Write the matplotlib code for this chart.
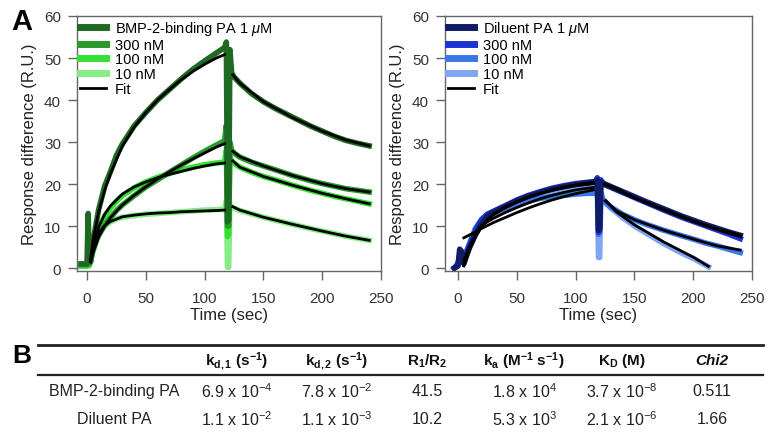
import numpy as np
import matplotlib
matplotlib.use('Agg')
import matplotlib.pyplot as plt
from matplotlib.lines import Line2D

plt.rcParams['font.family'] = ['Liberation Sans', 'DejaVu Sans']
plt.rcParams['mathtext.fontset'] = 'custom'
plt.rcParams['mathtext.rm'] = 'Liberation Sans'
plt.rcParams['mathtext.it'] = 'Liberation Sans:italic'
plt.rcParams['mathtext.bf'] = 'Liberation Sans:bold'
plt.rcParams['mathtext.default'] = 'regular'

# ---------------- Panel A, left: BMP-2-binding PA ----------------
t_bmp = [-5, -2, 0, 1, 2, 3, 5, 8, 10, 15, 20, 25, 30, 40, 50, 60, 70, 80, 90, 100, 110, 117,
         118.5, 119.5, 120.5, 121.5, 123, 125, 130, 140, 150, 160, 175, 190, 200, 210, 220, 230, 240]
bmp_1uM = [1.0, 1.0, 1.0, 13, 1.5, 1.5, 6, 11, 14, 19.5, 23, 26.8, 29.5, 33.8, 37, 40, 42.5, 45, 47.3, 49.3, 51.2, 52.5,
           53.8, 11, 11.5, 52, 46.5, 45.5, 44, 41.5, 39.6, 38, 35.9, 33.8, 32.6, 31.4, 30.4, 29.7, 29.1]
bmp_300nM = [0.8, 0.8, 0.8, 1, 1, 1.5, 4, 6.5, 7.8, 10.2, 12, 13.7, 15, 17.2, 19.3, 21, 22.8, 24.5, 26.2, 27.8, 29.3, 30.3,
             34, 10, 10, 30, 28, 27.4, 26.4, 25.2, 24.3, 23.4, 22, 20.8, 20.1, 19.5, 18.9, 18.5, 18.1]
bmp_100nM = [0.5, 0.5, 0.5, 0.6, 0.8, 1.5, 5, 8, 9.5, 12.3, 14.3, 15.9, 17.2, 19.1, 20.5, 21.6, 22.5, 23.3, 24, 24.6, 25, 25.2,
             28, 7.5, 8, 26.5, 25.5, 25, 24, 22.8, 21.8, 21, 19.7, 18.5, 17.8, 17.1, 16.5, 15.9, 15.3]
bmp_10nM = [0.5, 0.5, 0.5, 0.5, 0.5, 1.5, 4.5, 7, 8.3, 10, 11, 11.7, 12.1, 12.5, 12.8, 13, 13.2, 13.4, 13.6, 13.8, 13.9, 14,
            16, 0.2, 0.2, 15, 14.6, 14.3, 13.7, 12.9, 12.1, 11.4, 10.4, 9.4, 8.8, 8.2, 7.6, 7.1, 6.6]

# fits (association, dissociation)
tf_assoc = [3, 5, 10, 15, 20, 30, 40, 50, 60, 70, 80, 90, 100, 110, 117]
tf_dissoc = [124, 130, 150, 175, 200, 220, 240]
fit_bmp_1uM_a = [2, 6.5, 13.5, 18.5, 22.5, 29, 33.5, 37, 40, 42.5, 44.8, 46.8, 48.5, 50, 50.8]
fit_bmp_1uM_d = [46, 44, 39.6, 35.8, 32.6, 30.5, 29.1]
fit_bmp_300nM_a = [1.5, 3.5, 7.5, 10, 12, 15, 17.3, 19.3, 21.2, 22.9, 24.5, 26, 27.4, 28.8, 29.6]
fit_bmp_300nM_d = [27.8, 26.5, 24.3, 22, 20.1, 18.9, 18.1]
fit_bmp_100nM_a = [1.5, 5, 9.8, 12.8, 14.8, 17.6, 19.3, 20.5, 21.5, 22.3, 23, 23.7, 24.3, 24.8, 25]
fit_bmp_100nM_d = [25.5, 24, 21.8, 19.7, 17.8, 16.5, 15.3]
fit_bmp_10nM_a = [1.5, 4.5, 8.3, 10.1, 11.1, 12.2, 12.6, 12.9, 13.1, 13.2, 13.4, 13.5, 13.6, 13.7, 13.8]
fit_bmp_10nM_d = [14.6, 13.8, 12.1, 10.4, 8.8, 7.6, 6.6]

# ---------------- Panel A, right: Diluent PA ----------------
t_dil = [-3, 0, 1.5, 3, 5, 8, 10, 15, 20, 25, 30, 40, 50, 60, 70, 80, 90, 100, 110, 117,
         118.5, 119.5, 120.5, 121.5, 123, 125, 130, 140, 150, 160, 175, 190, 200, 210, 220, 230, 240]
dil_1uM = [0, 0.5, 4.5, 4, 1, 3.5, 5, 8, 10.5, 12.3, 13.3, 14.7, 16, 17.1, 18, 18.8, 19.4, 19.9, 20.3, 20.5,
           21, 9, 9.5, 20.5, 20.3, 20, 19.4, 18.2, 17, 15.8, 14.1, 12.4, 11.4, 10.4, 9.5, 8.6, 7.8]
dil_300nM = [0, 1, 2.5, 2.5, 2, 4, 5.5, 9, 11.5, 12.8, 13.5, 14.8, 16.2, 17.3, 18.2, 19, 19.6, 20.1, 20.4, 20.6,
             21.5, 8.5, 9, 21, 20.2, 19.8, 19.2, 18, 16.8, 15.6, 13.8, 12.1, 11.1, 10.1, 9.1, 8.1, 7.0]
dil_100nM = [0, 1, 3, 3, 3, 4.5, 6, 9.5, 11.5, 12.8, 13.3, 14.3, 15.2, 16, 16.6, 17, 17.3, 17.6, 17.8, 17.8,
             20, 8, 8.5, 18, 16.5, 15.8, 14.5, 12.8, 11.5, 10.4, 9.0, 7.7, 6.9, 6.0, 5.3, 4.5, 3.7]
t_dil_10 = t_dil[:-4] + [213]
dil_10nM = [0, 0.5, 1.5, 1.5, 2, 3.5, 5, 8.5, 11, 12, 12.8, 14, 15.3, 16.3, 17.2, 17.8, 18.3, 18.7, 19, 19.2,
            20, 2.5, 2.5, 17, 16.2, 15.6, 14.3, 12, 10, 8.3, 5.8, 3.6, 2.3, 0.3]

tf_dil_assoc = [5, 10, 15, 20, 25, 30, 40, 50, 60, 70, 80, 90, 100, 110, 115]
fit_dil_1uM_a = [0.5, 4.5, 7.5, 9.8, 11.4, 12.6, 14.3, 15.7, 16.8, 17.8, 18.6, 19.3, 19.8, 20.2, 20.4]
fit_dil_300nM_a = [1, 5, 8, 10, 11.5, 12.8, 14.5, 15.8, 16.9, 17.8, 18.5, 19.1, 19.6, 19.9, 20.1]
fit_dil_100nM_a = [7.2, 7.9, 8.6, 9.4, 10.1, 10.8, 12, 13.2, 14.3, 15.3, 16.2, 17, 17.7, 18.3, 18.6]
fit_dil_10nM_a = [2, 5, 8, 10, 11, 11.8, 13.2, 14.4, 15.5, 16.5, 17.3, 18, 18.6, 19, 19.2]
tf_dil_dissoc = [125, 135, 150, 175, 200, 220, 240]
fit_dil_1uM_d = [20, 18.9, 16.8, 14, 11.2, 9.4, 7.8]
fit_dil_300nM_d = [19.8, 18.6, 16.7, 13.8, 11.1, 9.2, 7.5]
fit_dil_100nM_d = [16, 13.6, 11.5, 9, 6.9, 5.3, 4.3]
tf_dil_10_d = [126, 135, 150, 175, 200, 213]
fit_dil_10nM_d = [16, 13.3, 10.3, 6.2, 2.6, 0.4]

# ---------------- Panel B: table ----------------
col_headers = [r'k$_{d,1}$ (s$^{-1}$)', r'k$_{d,2}$ (s$^{-1}$)', r'R$_1$/R$_2$',
               r'k$_a$ (M$^{-1}$ s$^{-1}$)', r'K$_D$ (M)', 'Chi2']
row_labels = ['BMP-2-binding PA', 'Diluent PA']
row_bmp = [r'6.9 x 10$^{-4}$', r'7.8 x 10$^{-2}$', '41.5', r'1.8 x 10$^{4}$', r'3.7 x 10$^{-8}$', '0.511']
row_dil = [r'1.1 x 10$^{-2}$', r'1.1 x 10$^{-3}$', '10.2', r'5.3 x 10$^{3}$', r'2.1 x 10$^{-6}$', '1.66']

greens = ['#1f6a22', '#2a9a2c', '#33e033', '#86ec86']
blues = ['#101c66', '#1d34d4', '#3a78ea', '#80a6f2']

W, H = 768, 435
fig = plt.figure(figsize=(7.68, 4.35), dpi=100)
ax1 = fig.add_axes([77 / W, 1 - 272 / H, 304 / W, 255 / H])
ax2 = fig.add_axes([445 / W, 1 - 272 / H, 307 / W, 255 / H])

data_lw = 4.0
fit_lw = 2.0

# left panel
for vals, c in zip([bmp_10nM, bmp_100nM, bmp_300nM, bmp_1uM], greens[::-1]):
    ax1.plot(t_bmp, vals, color=c, lw=data_lw, solid_joinstyle='round')
for fa, fd in [(fit_bmp_1uM_a, fit_bmp_1uM_d), (fit_bmp_300nM_a, fit_bmp_300nM_d),
               (fit_bmp_100nM_a, fit_bmp_100nM_d), (fit_bmp_10nM_a, fit_bmp_10nM_d)]:
    ax1.plot(tf_assoc, fa, color='black', lw=fit_lw)
    ax1.plot(tf_dissoc, fd, color='black', lw=fit_lw)

# right panel
for tt, vals, c in zip([t_dil_10, t_dil, t_dil, t_dil], [dil_10nM, dil_100nM, dil_300nM, dil_1uM], blues[::-1]):
    ax2.plot(tt, vals, color=c, lw=data_lw, solid_joinstyle='round')
for fa in [fit_dil_1uM_a, fit_dil_300nM_a, fit_dil_100nM_a, fit_dil_10nM_a]:
    ax2.plot(tf_dil_assoc, fa, color='black', lw=fit_lw)
for fd in [fit_dil_1uM_d, fit_dil_300nM_d, fit_dil_100nM_d]:
    ax2.plot(tf_dil_dissoc, fd, color='black', lw=fit_lw)
ax2.plot(tf_dil_10_d, fit_dil_10nM_d, color='black', lw=fit_lw)

legend_labels_l = [r'BMP-2-binding PA 1 $\mathit{\mu}$M', '300 nM', '100 nM', '10 nM', 'Fit']
legend_labels_r = [r'Diluent PA 1 $\mathit{\mu}$M', '300 nM', '100 nM', '10 nM', 'Fit']

for ax, cols, labs, xmin in [(ax1, greens, legend_labels_l, -8.5), (ax2, blues, legend_labels_r, -11)]:
    ax.set_xlim(xmin, 250)
    ax.set_ylim(-0.7, 60)
    ax.set_xticks([0, 50, 100, 150, 200, 250])
    ax.set_yticks([0, 10, 20, 30, 40, 50, 60])
    ax.tick_params(direction='out', length=6.5, width=1, color='#666666',
                   labelcolor='#333333', labelsize=11)
    ax.tick_params(axis='x', pad=8)
    ax.tick_params(axis='y', pad=5)
    for s in ax.spines.values():
        s.set_color('#666666')
        s.set_linewidth(1)
    ax.set_xlabel('Time (sec)', fontsize=12, color='#222222', labelpad=1)
    ax.set_ylabel('Response difference (R.U.)', fontsize=12, color='#222222', labelpad=5)
    handles = [Line2D([], [], color=c, lw=5) for c in cols] + [Line2D([], [], color='black', lw=2)]
    ax.legend(handles, labs, loc='upper left', frameon=False, fontsize=10.5,
              handlelength=1.8, handletextpad=0.6, labelspacing=0.05,
              borderaxespad=0.1, borderpad=0.1)

fig.text(22 / W, 1 - 22 / H, 'A', fontsize=21, fontweight='bold', ha='center', va='center')
fig.text(22 / W, 1 - 356 / H, 'B', fontsize=19, fontweight='bold', ha='center', va='center')

# table rules
fig.add_artist(Line2D([38 / W, 763 / W], [1 - 345.5 / H, 1 - 345.5 / H], color='#222222', lw=2))
fig.add_artist(Line2D([38 / W, 763 / W], [1 - 375.5 / H, 1 - 375.5 / H], color='#222222', lw=1.6))

col_x = [237, 337, 427, 524, 622, 712]
for x, h in zip(col_x, col_headers):
    style = 'italic' if h == 'Chi2' else 'normal'
    fig.text(x / W, 1 - 361 / H, h, fontsize=11, fontweight='bold', fontstyle=style,
             ha='center', va='center', color='#111111')
for y, lab, row in [(392, row_labels[0], row_bmp), (420, row_labels[1], row_dil)]:
    fig.text(114 / W, 1 - y / H, lab, fontsize=11.5, ha='center', va='center', color='#222222')
    for x, v in zip(col_x, row):
        fig.text(x / W, 1 - y / H, v, fontsize=11.5, ha='center', va='center', color='#222222')

fig.savefig('out.png', dpi=100)
